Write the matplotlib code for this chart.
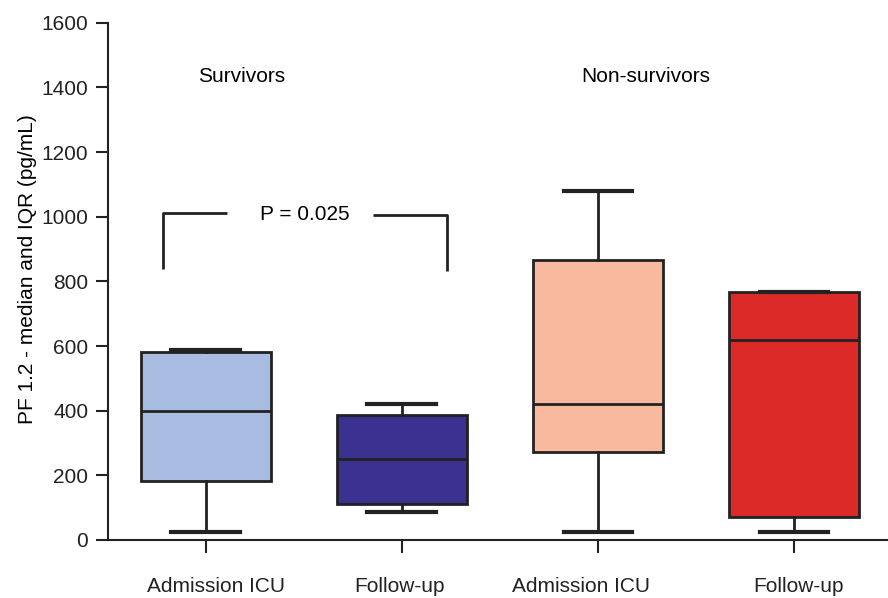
import numpy as np
import matplotlib.pyplot as plt
from matplotlib.transforms import ScaledTranslation

plt.rcParams['font.family'] = ['Liberation Sans', 'DejaVu Sans']

groups = ["Admission ICU", "Follow-up", "Admission ICU", "Follow-up"]
whislo = [24, 86, 24, 24]
q1 = [183, 112, 273, 71]
med = [399, 250, 420, 619]
q3 = [582, 388, 867, 768]
whishi = [587, 420, 1080, 768]
colors = ["#a8bbe0", "#3b3190", "#f9b99e", "#dc2a29"]

stats = []
for i in range(len(groups)):
    stats.append(dict(whislo=whislo[i], q1=q1[i], med=med[i], q3=q3[i],
                      whishi=whishi[i], fliers=[], label=groups[i]))

fig = plt.figure(figsize=(8.88, 5.98), dpi=100)
ax = fig.add_axes([0.1213, 0.097, 0.8787, 0.865])

lc = "#222222"
fs = 15
bp = ax.bxp(stats, positions=[1, 2, 3, 4], widths=0.663, patch_artist=True,
            showfliers=False,
            boxprops=dict(linewidth=2, edgecolor=lc),
            medianprops=dict(linewidth=2, color=lc),
            whiskerprops=dict(linewidth=2, color=lc),
            capprops=dict(linewidth=3, color=lc),
            capwidths=0.35)
for patch, c in zip(bp["boxes"], colors):
    patch.set_facecolor(c)

# significance bracket
ax.plot([0.78, 0.78, 1.107], [838, 1012, 1012], color=lc, lw=2, solid_capstyle="butt")
ax.plot([1.855, 2.23, 2.23], [1005, 1005, 833], color=lc, lw=2, solid_capstyle="butt")
ax.text(1.507, 1008, "P = 0.025", ha="center", va="center", fontsize=fs)

ax.text(1.185, 1433, "Survivors", ha="center", va="center", fontsize=fs)
ax.text(3.246, 1433, "Non-survivors", ha="center", va="center", fontsize=fs)

ax.set_xlim(0.5, 4.48)
ax.set_ylim(0, 1600)
ax.set_yticks(np.arange(0, 1601, 200))
ax.set_xticks([1, 2, 3, 4])
ax.set_xticklabels(groups)
ax.set_ylabel("PF 1.2 - median and IQR (pg/mL)", fontsize=fs)
ax.yaxis.set_label_coords(-0.09, 0.524)

ax.spines["top"].set_visible(False)
ax.spines["right"].set_visible(False)
ax.spines["left"].set_linewidth(1.5)
ax.spines["bottom"].set_linewidth(1.5)
ax.spines["left"].set_color(lc)
ax.spines["bottom"].set_color(lc)
ax.tick_params(axis="y", length=9, width=1.5, pad=5, labelsize=fs, colors=lc)
ax.tick_params(axis="x", length=9.5, width=1.5, pad=17, labelsize=fs, colors=lc)
ax.spines["left"].set_bounds(0, 1600)

# the labels under the boxes are not exactly centred on their ticks
shifts = [10, -2, -17, 5]
for lab, dx in zip(ax.get_xticklabels(), shifts):
    lab.set_transform(lab.get_transform() + ScaledTranslation(dx / 100, 0, fig.dpi_scale_trans))

fig.savefig("out.png", dpi=100)
